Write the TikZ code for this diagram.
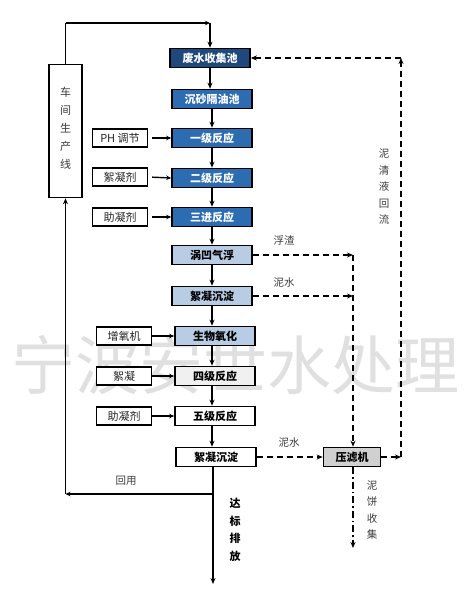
\documentclass[tikz,border=0pt]{standalone}
\usepackage{fontspec}
\newfontfamily\cjk{Noto Sans CJK SC}
\usetikzlibrary{arrows.meta}
\definecolor{navy}{RGB}{31,73,125}
\definecolor{midblue}{RGB}{46,108,178}
\definecolor{lightblue}{RGB}{184,204,228}
\definecolor{lightgray}{RGB}{240,240,240}
\definecolor{pressgray}{RGB}{208,208,208}
\definecolor{labelgray}{RGB}{60,60,60}
\begin{document}
\begin{tikzpicture}[x=1pt,y=-1pt,
  mainbox/.style={draw=black,line width=1.6pt,minimum width=80pt,minimum height=19pt,inner sep=0pt,font=\cjk\bfseries\fontsize{11}{12}\selectfont},
  darkbox/.style={mainbox,fill=navy,text=white},
  bluebox/.style={mainbox,fill=midblue,text=white},
  lbluebox/.style={mainbox,fill=lightblue,text=black},
  sidebox/.style={draw=black,fill=white,line width=1.2pt,minimum width=55pt,minimum height=18pt,inner sep=0pt,font=\cjk\fontsize{11}{12}\selectfont,text=black!85},
  lbl/.style={font=\cjk\fontsize{10.5}{12}\selectfont,text=labelgray,inner sep=0pt},
  vlbl/.style={font=\cjk\fontsize{10.5}{16.5}\selectfont,text=labelgray,align=center,inner sep=0pt},
  flow/.style={line width=1.6pt,-{Stealth[length=6pt,width=5pt]}},
  flowline/.style={line width=1.6pt},
  dflow/.style={line width=1.4pt,dash pattern=on 6pt off 4pt,-{Stealth[length=6pt,width=5pt]}},
  ddflow/.style={line width=1.2pt,dash pattern=on 7pt off 3pt on 1.5pt off 3pt,-{Stealth[length=6pt,width=5pt]}},
  sflow/.style={line width=1.4pt,-{Stealth[length=5pt,width=4.5pt]}}
]
\useasboundingbox (0,0) rectangle (468,613);
\fill[white] (0,0) rectangle (468,613);
% watermark
\node[font=\cjk\fontsize{64}{64}\selectfont,text=black!12,inner sep=0pt] (wm) at (235,365) {宁波安世水处理};

% main column
\node[darkbox] (b1) at (210,58) {废水收集池};
\node[bluebox] (b2) at (212,99) {沉砂隔油池};
\node[bluebox] (b3) at (212,138) {一级反应};
\node[bluebox] (b4) at (212,178) {二级反应};
\node[bluebox] (b5) at (212,217) {三进反应};
\node[lbluebox] (b6) at (212,255) {涡凹气浮};
\node[lbluebox] (b7) at (212,296) {絮凝沉淀};
\node[lbluebox] (b8) at (215,336) {生物氧化};
\node[mainbox,fill=lightgray] (b9) at (215,376) {四级反应};
\node[mainbox,fill=white] (b10) at (215,416) {五级反应};
\node[mainbox,fill=white] (b11) at (216,457) {絮凝沉淀};
\node[mainbox,fill=pressgray,minimum width=57pt] (fp) at (352,457) {压滤机};

% side boxes
\node[sidebox] (s1) at (120,138) {PH 调节};
\node[sidebox] (s2) at (120,177) {絮凝剂};
\node[sidebox] (s3) at (120,217) {助凝剂};
\node[sidebox] (s4) at (124,336) {增氧机};
\node[sidebox] (s5) at (124,376) {絮凝};
\node[sidebox] (s6) at (124,416) {助凝剂};

% workshop box
\node[draw=black,fill=white,line width=1.6pt,minimum width=33pt,minimum height=133pt,inner sep=0pt] (ws) at (65.5,131) {};
\node[vlbl,font=\cjk\fontsize{11}{18}\selectfont] (wst) at (65.5,128) {车\\间\\生\\产\\线};

% coordinates
\coordinate (t1) at (65.5,23);
\coordinate (t2) at (210,23);
\coordinate (r1) at (353,255);
\coordinate (r2) at (353,296);
\coordinate (q1) at (401,457);
\coordinate (q2) at (401,58);
\coordinate (cake) at (353,548);
\coordinate (ret) at (213,494);
\coordinate (retl) at (65.5,494);
\coordinate (outlet) at (213,584);

% top loop
\draw[flowline] (ws.north) -- (t1);
\draw[sflow] (t1) -- (t2);
\draw[flow] (t2) -- (b1.north);

% main flow
\draw[flow] (b1.south) -- (b1.south |- b2.north);
\draw[flow] (b2.south) -- (b3.north);
\draw[flow] (b3.south) -- (b4.north);
\draw[flow] (b4.south) -- (b5.north);
\draw[flow] (b5.south) -- (b6.north);
\draw[flow] (b6.south) -- (b7.north);
\draw[flow] (b7.south) -- (b7.south |- b8.north);
\draw[flow] (b8.south -| b7.south) -- (b7.south |- b9.north);
\draw[flow] (b9.south -| b7.south) -- (b7.south |- b10.north);
\draw[flow] (b10.south -| b7.south) -- (b7.south |- b11.north);
\draw[flow] (b11.south -| ret) -- (outlet);
\draw[sflow] (ret) -- (retl);
\draw[flow] (retl) -- (ws.south);

% side inputs
\draw[sflow,shorten <=4pt] (s1.east) -- (b3.west);
\draw[sflow,shorten <=4pt] (s2.east) -- (b4.west);
\draw[sflow,shorten <=4pt] (s3.east) -- (b5.west);
\draw[sflow] (s4.east) -- (b8.west);
\draw[sflow] (s5.east) -- (b9.west);
\draw[sflow] (s6.east) -- (b10.west);

% sludge lines
\draw[dflow] (b6.east) -- (r1);
\draw[dflow] (r1) -- (r1 |- fp.north);
\draw[dflow] (b7.east) -- (r2);
\draw[dflow] (b11.east) -- (fp.west);
\draw[dflow] (fp.east) -- (q1);
\draw[dflow] (q1) -- (q2);
\draw[dflow] (q2) -- (b1.east);
\draw[ddflow] (fp.south -| r1) -- (cake);

% labels
\node[lbl] (l1) at (284,240) {浮渣};
\node[lbl] (l2) at (284,283) {泥水};
\node[lbl] (l3) at (289,443) {泥水};
\node[lbl] (l4) at (126,481) {回用};
\node[vlbl] (l5) at (384,187) {泥\\清\\液\\回\\流};
\node[vlbl] (l6) at (372,510) {泥\\饼\\收\\集};
\node[vlbl,font=\cjk\bfseries\fontsize{11}{17.5}\selectfont,text=black] (l7) at (235,530) {达\\标\\排\\放};
\end{tikzpicture}
\end{document}
